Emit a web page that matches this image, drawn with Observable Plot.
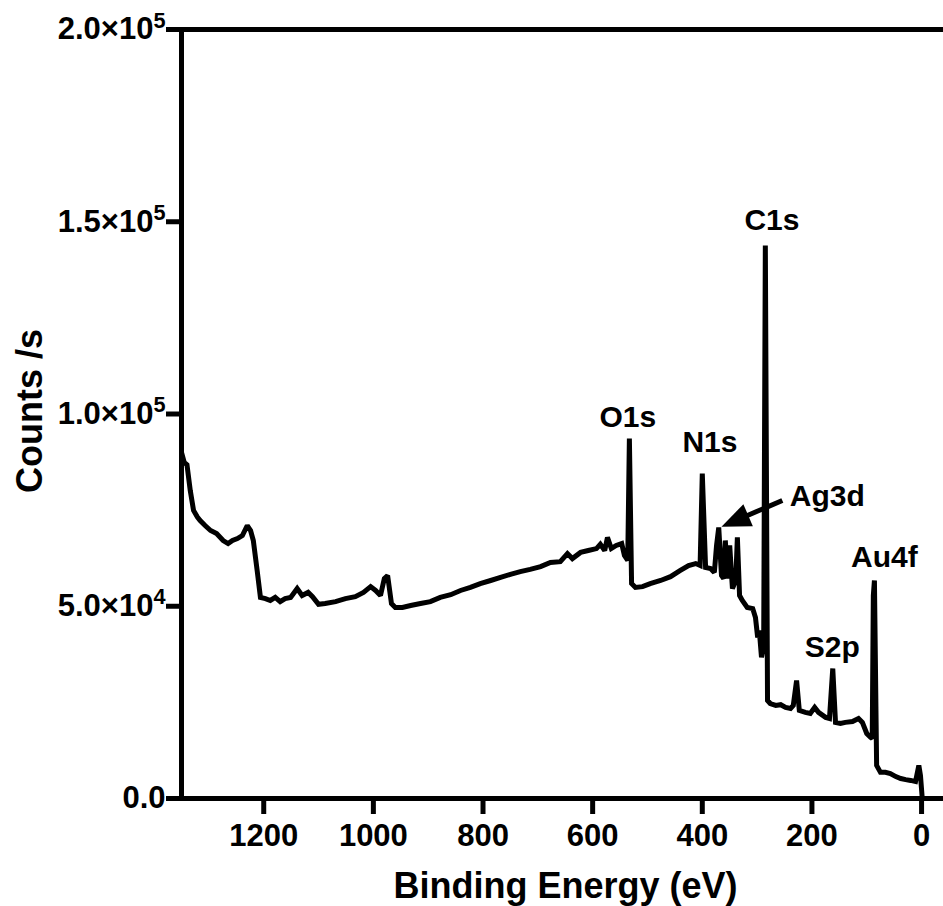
<!DOCTYPE html>
<html>
<head>
<meta charset="utf-8">
<script src="https://cdn.jsdelivr.net/npm/d3@7"></script>
<script src="https://cdn.jsdelivr.net/npm/@observablehq/plot@0.6"></script>
<style>
  html, body { margin: 0; padding: 0; background: #fff; }
  #chart { width: 943px; height: 906px; }
</style>
</head>
<body>
<div id="chart"></div>
<script>
// XPS survey spectrum: binding energy (eV) and count rate (counts/s)
const bindingEnergy = [
  1350, 1345, 1340, 1334, 1328, 1321, 1316, 1307, 1297, 1286, 1274, 1265, 1257, 1248, 1239, 1230,
  1224, 1219, 1212, 1206, 1197, 1188, 1179, 1170, 1161, 1151, 1139, 1130, 1119, 1111, 1100, 1088,
  1069, 1051, 1033, 1018, 1005, 996, 987, 980, 974, 967, 960, 947, 932, 914, 896, 878,
  859, 841, 823, 805, 786, 768, 750, 732, 714, 695, 677, 659, 646, 637, 622, 608,
  593, 586, 578, 573, 566, 557, 547, 542, 536, 533, 529, 522, 509, 495, 476, 458,
  440, 425, 412, 404, 400, 394, 385, 378, 374, 370, 365, 361, 358, 354, 350, 345,
  339, 336, 332, 327, 318, 308, 303, 299, 296, 292, 288, 285, 281, 276, 266, 257,
  248, 239, 234, 228, 223, 212, 203, 195, 188, 175, 168, 162, 157, 148, 139, 126,
  115, 108, 100, 93, 90, 88, 86, 82, 75, 66, 57, 47, 38, 29, 20, 11,
  5, 2, -1
];
const countsPerSecond = [
  90000, 87400, 86800, 80100, 74900, 73200, 72300, 71000, 69700, 68900, 67100, 66300, 67100, 67600, 68400, 71000,
  69700, 67100, 59300, 52300, 52000, 51500, 52300, 51200, 52000, 52300, 54600, 52800, 53600, 52500, 50500, 50700,
  51200, 52000, 52500, 53600, 55100, 54100, 52800, 57200, 58000, 50700, 49700, 49700, 50200, 50700, 51200, 52300,
  53000, 54100, 54900, 55900, 56700, 57500, 58300, 59000, 59600, 60300, 61400, 61600, 63700, 62400, 64000, 64500,
  65000, 66100, 64500, 67900, 65000, 65800, 66300, 63200, 61900, 93600, 55900, 54900, 55100, 55900, 56700, 57700,
  59300, 60600, 61100, 60600, 84500, 60100, 59800, 58800, 65800, 70500, 58000, 57200, 67100, 57200, 65800, 54600,
  56700, 67900, 52800, 51500, 49700, 49400, 47100, 41900, 43700, 36700, 39800, 143800, 25500, 24700, 24200, 24400,
  23700, 23400, 24200, 30700, 22900, 22400, 22100, 23700, 22400, 21100, 20800, 33800, 19800, 19500, 19800, 20000,
  20800, 19800, 16900, 15900, 15600, 52800, 56700, 8600, 6800, 6800, 6500, 5700, 5200, 4900, 4700, 4400,
  8600, 6000, 500
];

// Peak assignments and where their names sit (eV, counts/s)
const peakNames = ["O1s", "N1s", "C1s", "Ag3d", "S2p", "Au4f"];
const labelEnergy = [536, 386, 273, 172, 163, 68];
const labelCounts = [99200, 92500, 150300, 78700, 39300, 62600];

// Pointer to the Ag3d doublet
const arrowTail = {energy: 254, counts: 77500};
const arrowTip = {energy: 365, counts: 70700};

// Axis ticks
const energyTicks = [1200, 1000, 800, 600, 400, 200, 0];
const countTicks = [0, 50000, 100000, 150000, 200000];
const countTickLabels = ["0.0", "5.0×10⁴", "1.0×10⁵", "1.5×10⁵", "2.0×10⁵"];

const spectrum = bindingEnergy.map((e, i) => ({energy: e, counts: countsPerSecond[i]}));
const peakLabels = peakNames.map((name, i) => ({name, energy: labelEnergy[i], counts: labelCounts[i]}));

// Layout
const W = 943, H = 906;
const margin = {top: 29, right: 0, bottom: 108, left: 181};
const xDomain = [1350, -40];
const yDomain = [0, 200000];

// Direction of the pointer on screen, used to turn its filled head
const sx = d3.scaleLinear(xDomain, [margin.left, W - margin.right]);
const sy = d3.scaleLinear(yDomain, [H - margin.bottom, margin.top]);
const headAngle = Math.atan2(sy(arrowTip.counts) - sy(arrowTail.counts), sx(arrowTip.energy) - sx(arrowTail.energy)) * 180 / Math.PI + 90;

// Filled arrowhead with its tip at the origin, pointing up
const arrowHead = {
  draw(ctx) {
    const L = 29, B = 24;
    ctx.moveTo(0, 0);
    ctx.lineTo(B / 2, L);
    ctx.lineTo(-B / 2, L);
    ctx.closePath();
  }
};

const font = "'Liberation Sans', Arial, Helvetica, sans-serif";

const chart = Plot.plot({
  width: W,
  height: H,
  marginTop: margin.top,
  marginRight: margin.right,
  marginBottom: margin.bottom,
  marginLeft: margin.left,
  style: {fontFamily: font, fontWeight: "bold", color: "#000", background: "#fff", overflow: "visible"},
  x: {domain: xDomain},
  y: {domain: yDomain},
  marks: [
    Plot.axisX({ticks: energyTicks, tickSize: 16, tickPadding: 9, strokeWidth: 5, fontSize: 31, label: null, tickFormat: d => String(d)}),
    Plot.axisY({ticks: countTicks, tickSize: 15, tickPadding: 1, strokeWidth: 5, fontSize: 31, label: null,
      tickFormat: d => countTickLabels[countTicks.indexOf(d)]}),
    Plot.ruleY([0], {strokeWidth: 5}),
    Plot.ruleY([200000], {strokeWidth: 5}),
    Plot.ruleX([1350], {strokeWidth: 5}),
    Plot.line(spectrum, {x: "energy", y: "counts", stroke: "#000", strokeWidth: 5, strokeLinejoin: "miter", strokeMiterlimit: 2}),
    Plot.text(peakLabels, {x: "energy", y: "counts", text: "name", fontSize: 30, fontWeight: "bold", fill: "#000", lineAnchor: "middle"}),
    Plot.arrow([0], {x1: arrowTail.energy, y1: arrowTail.counts, x2: arrowTip.energy, y2: arrowTip.counts,
      headLength: 0, insetEnd: 20, strokeWidth: 5, strokeLinecap: "butt", stroke: "#000"}),
    Plot.dot([arrowTip], {x: "energy", y: "counts", symbol: arrowHead, r: 10, fill: "#000", stroke: null, rotate: headAngle}),
    Plot.text(["Binding Energy (eV)"], {frameAnchor: "bottom", lineAnchor: "top", textAnchor: "middle", dy: 74, dx: 3, fontSize: 36, fontWeight: "bold", fill: "#000"}),
    Plot.text(["Counts /s"], {frameAnchor: "left", textAnchor: "middle", lineAnchor: "middle", rotate: -90, dx: -151, dy: -3, fontSize: 36, fontWeight: "bold", fill: "#000"})
  ]
});

// Set the power of ten in the y tick labels as a raised, smaller exponent
const superDigits = "⁰¹²³⁴⁵⁶⁷⁸⁹";
d3.select(chart).selectAll("text").each(function () {
  const s = this.textContent;
  const k = s.indexOf("×10");
  if (k < 0) return;
  const base = s.slice(0, k + 3);
  const exp = Array.from(s.slice(k + 3)).map(c => superDigits.indexOf(c)).join("");
  const t = d3.select(this);
  t.text(base);
  t.append("tspan").attr("font-size", "0.7em").attr("dy", "-0.55em").text(exp);
});

document.getElementById("chart").appendChild(chart);
</script>
</body>
</html>
